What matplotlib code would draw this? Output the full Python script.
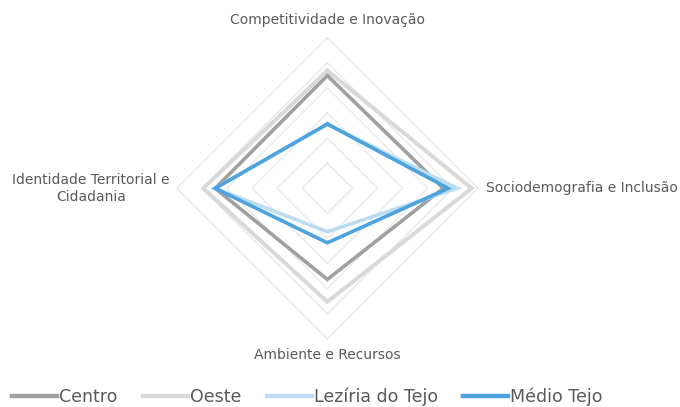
import numpy as np
import matplotlib
matplotlib.use("Agg")
import matplotlib.pyplot as plt

categories = ["Competitividade e Inovação", "Sociodemografia e Inclusão",
              "Ambiente e Recursos", "Identidade Territorial e\nCidadania"]
series_names = ["Centro", "Oeste", "Lezíria do Tejo", "Médio Tejo"]
centro = [4.49, 4.62, 3.63, 4.47]
oeste = [4.69, 5.75, 4.52, 4.94]
leziria = [2.56, 5.18, 1.73, 4.47]
medio = [2.56, 4.82, 2.17, 4.47]
ring_levels = [1, 2, 3, 4, 5, 6]

colors = ["#a0a0a0", "#d9d9d9", "#bcdcf2", "#4da3de"]
widths = [2.6, 2.9, 2.6, 2.6]

fig = plt.figure(figsize=(6.8, 4.07), dpi=100)
ax = fig.add_axes([0.2599, 0.1673, 0.443, 0.740], projection="polar")
ax.set_theta_offset(np.pi / 2)
ax.set_theta_direction(-1)
ax.set_ylim(0, 6)
ax.grid(False)
ax.spines["polar"].set_visible(False)
ax.set_xticks([])
ax.set_yticks([])
ax.patch.set_alpha(0)

n = len(categories)
theta = np.arange(n) * 2 * np.pi / n
theta_c = np.concatenate([theta, theta[:1]])

for lv in ring_levels:
    ax.plot(theta_c, [lv] * (n + 1), color="#e6e6e6", lw=0.9, zorder=1, clip_on=False)

for name, vals, c, w in zip(series_names, [centro, oeste, leziria, medio], colors, widths):
    v = list(vals) + [vals[0]]
    ax.plot(theta_c, v, color=c, lw=w, label=name, zorder=3, clip_on=False,
            solid_joinstyle="miter")

txtc = "#595959"
fs = 10
ax.text(theta[0], 6.7, categories[0], ha="center", va="center", color=txtc, fontsize=fs)
ax.text(theta[1], 6.33, categories[1], ha="left", va="center", color=txtc, fontsize=fs)
ax.text(theta[2], 6.65, categories[2], ha="center", va="center", color=txtc, fontsize=fs)
ax.text(theta[3], 6.27, categories[3], ha="right", va="center", color=txtc, fontsize=fs,
        multialignment="center", linespacing=1.3)

leg = fig.legend(loc="center", bbox_to_anchor=(0.452, 0.025), ncol=4, frameon=False,
                 fontsize=12.5, handlelength=2.6, handletextpad=0.12, columnspacing=1.45,
                 labelcolor=txtc, borderpad=0)
for h in leg.legend_handles:
    h.set_linewidth(3.2)

fig.savefig("out.png", dpi=100)
